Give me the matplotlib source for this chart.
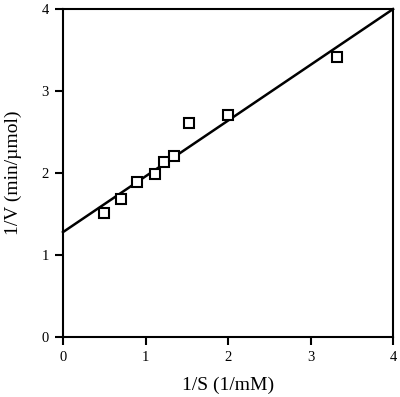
import numpy as np
import matplotlib
matplotlib.use('Agg')
import matplotlib.pyplot as plt

plt.rcParams['font.family'] = ['Liberation Serif', 'DejaVu Serif']

inv_s = [0.50, 0.70, 0.90, 1.11, 1.23, 1.34, 1.53, 2.00, 3.32]
inv_v = [1.51, 1.68, 1.89, 1.99, 2.13, 2.21, 2.61, 2.71, 3.42]

# fitted line: 1/V = intercept + slope * 1/S
intercept = 1.28
slope = 0.68
fit_x = [0, 4]

fig = plt.figure(figsize=(4.0, 3.97), dpi=100)
ax = fig.add_axes([0.1575, 0.151, 0.825, 0.826])

fx = np.array(fit_x, dtype=float)
ax.plot(fx, intercept + slope * fx, color='black', lw=1.8, clip_on=False)
ax.plot(inv_s, inv_v, linestyle='none', marker='s', markersize=7.5,
        markerfacecolor='white', markeredgecolor='black', markeredgewidth=1.5)

ax.set_xlim(0, 4)
ax.set_ylim(0, 4)
ax.set_xticks([0, 1, 2, 3, 4])
ax.set_yticks([0, 1, 2, 3, 4])
for s in ax.spines.values():
    s.set_linewidth(1.5)
ax.tick_params(direction='out', length=6, width=1.5, labelsize=10.5, pad=4)

ax.set_xlabel('1/S (1/mM)', fontsize=14, labelpad=9)
ax.set_ylabel('1/V (min/\u00b5mol)', fontsize=14, labelpad=14)

fig.savefig('out.png', dpi=100)
